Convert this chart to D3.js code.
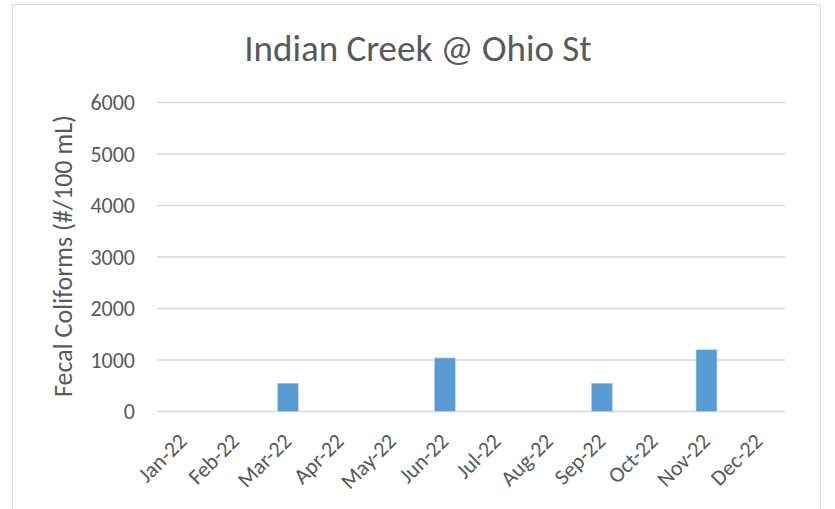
<!DOCTYPE html>
<html><head><meta charset="utf-8">
<script src="https://cdn.jsdelivr.net/npm/d3@7"></script>
<style>body{margin:0;background:#fff}svg{display:block}text{font-family:Carlito,Calibri,"Open Sans","Liberation Sans",sans-serif;fill:#595959}</style>
</head><body>
<svg id="c" width="835" height="509"></svg>
<script>
const title = "Indian Creek @ Ohio St";
const yTitle = "Fecal Coliforms (#/100 mL)";
const months = ["Jan-22","Feb-22","Mar-22","Apr-22","May-22","Jun-22","Jul-22","Aug-22","Sep-22","Oct-22","Nov-22","Dec-22"];
const values = [0,0,550,0,0,1040,0,0,550,0,1200,0];
const yTicks = [0,1000,2000,3000,4000,5000,6000];

const svg = d3.select("#c");
const m = {left:157, right:785, top:102.5, bottom:411.5};

svg.append("rect").attr("x",12.5).attr("y",4.5).attr("width",808).attr("height",530)
  .attr("fill","#fff").attr("stroke","#d9d9d9").attr("stroke-width",1);

const x = d3.scaleBand().domain(months).range([m.left,m.right]).paddingInner(0.6).paddingOuter(0.3);
const y = d3.scaleLinear().domain([0,6000]).range([m.bottom,m.top]);

// gridlines
svg.append("g").selectAll("line").data(yTicks).join("line")
  .attr("x1",m.left).attr("x2",m.right)
  .attr("y1",d=>y(d)).attr("y2",d=>y(d))
  .attr("stroke","#d9d9d9").attr("stroke-width",1.5);

// y axis labels
const yAxis = d3.axisLeft(y).tickValues(yTicks).tickSize(0).tickPadding(22).tickFormat(d3.format("d"));
const gy = svg.append("g").attr("transform",`translate(${m.left},0)`).call(yAxis);
gy.select(".domain").remove();
gy.selectAll("text").style("font-size","22px").style("fill","#595959").style("font-family",null);

// bars
svg.append("g").selectAll("rect").data(months.map((mo,i)=>({mo,v:values[i]})).filter(d=>d.v>0)).join("rect")
  .attr("x",d=>x(d.mo)).attr("width",x.bandwidth())
  .attr("y",d=>y(d.v)).attr("height",d=>y(0)-y(d.v))
  .attr("fill","#5b9bd5").attr("stroke","#bdd7ee").attr("stroke-width",0.6);

// x axis labels
const xAxis = d3.axisBottom(x).tickSize(0).tickPadding(0);
const gx = svg.append("g").attr("transform",`translate(0,${m.bottom})`).call(xAxis);
gx.select(".domain").remove();
gx.selectAll("text").style("font-size","22px").style("fill","#595959").style("font-family",null)
  .attr("text-anchor","end").attr("dy",null).attr("y",0)
  .attr("transform","translate(5,31) rotate(-45)");

// titles
svg.append("text").attr("x",418).attr("y",61).attr("text-anchor","middle")
  .style("font-size","37px").text(title);
svg.append("text").attr("transform","translate(72,256) rotate(-90)").attr("text-anchor","middle")
  .style("font-size","26px").text(yTitle);
</script>
</body></html>
